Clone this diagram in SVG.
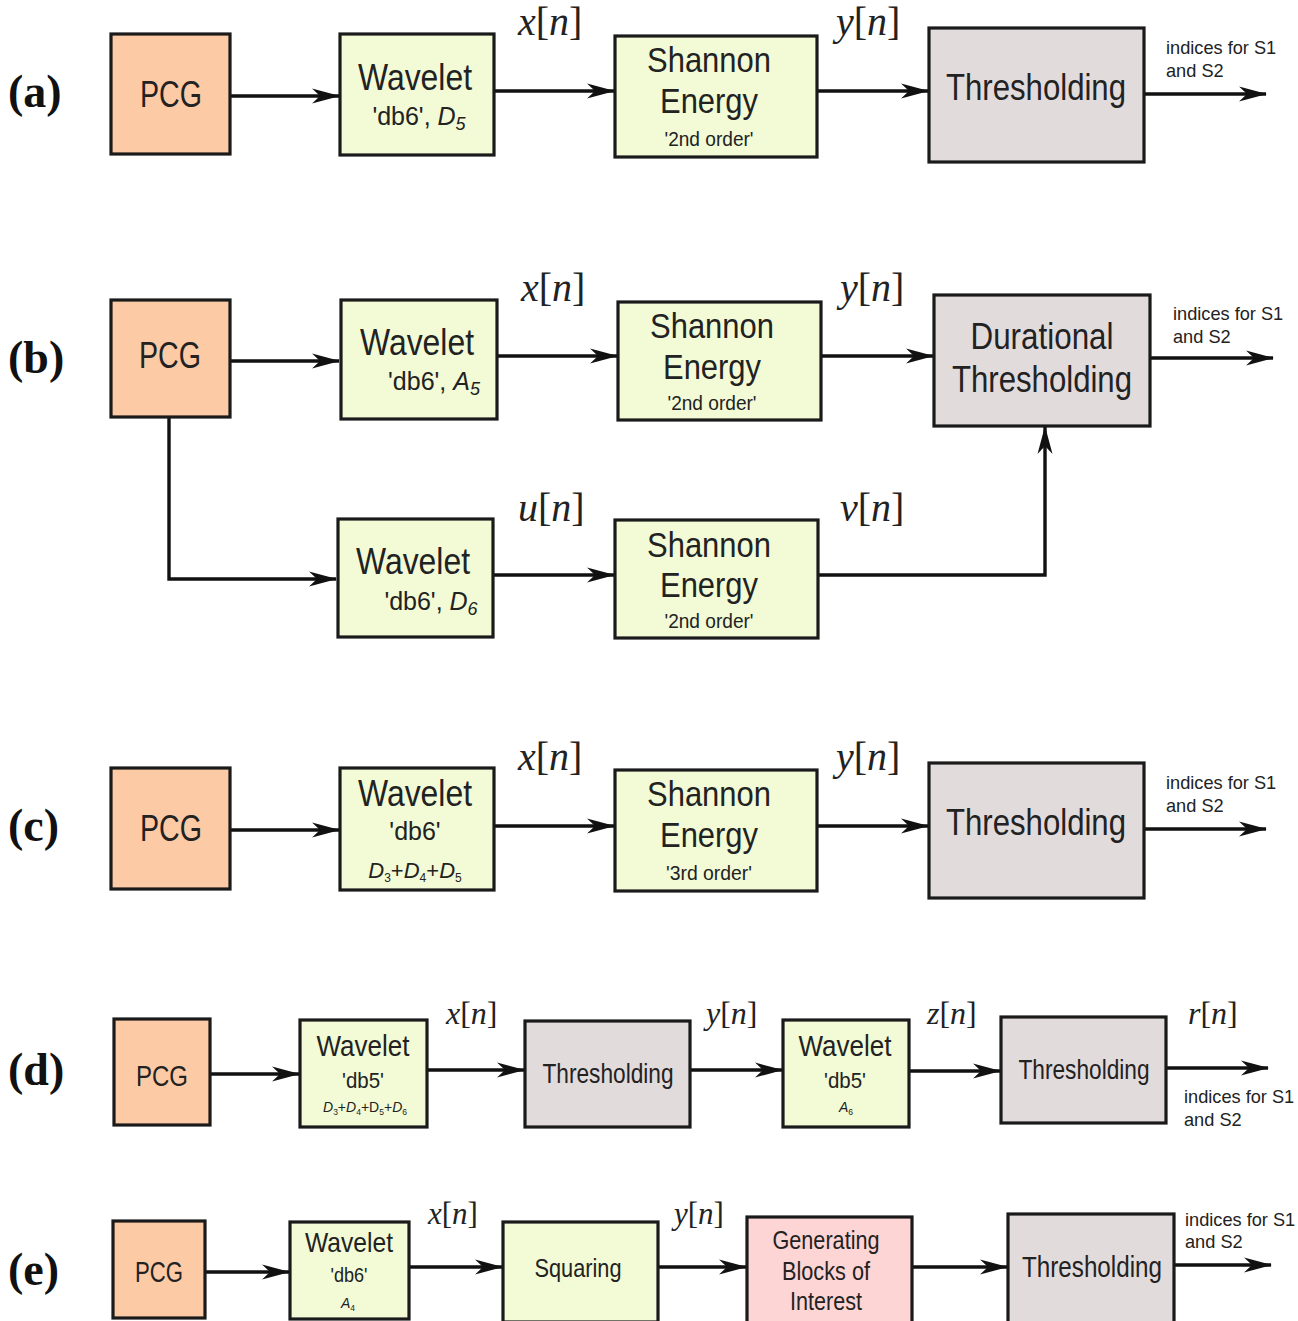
<svg xmlns="http://www.w3.org/2000/svg" width="1298" height="1321" viewBox="0 0 1298 1321">
<style>
.bx{stroke:#1a1a1a;stroke-width:3.2}
.pcg{fill:#fdcaa6}
.wv{fill:#f2fbd6}
.th{fill:#e2dbdc}
.gb{fill:#fdd5d4}
.t{font-family:"Liberation Sans",Arial,sans-serif;fill:#222;text-anchor:middle}
.s{font-family:"Liberation Sans",Arial,sans-serif;fill:#222}
.m{font-family:"Liberation Serif","Times New Roman",serif;fill:#222}
.m .i{font-style:italic}
.p{font-family:"Liberation Serif","Times New Roman",serif;font-weight:bold;fill:#111;font-size:46px}
.c{fill:none;stroke:#111;stroke-width:3.4}
</style>
<defs>
<marker id="ah" markerUnits="userSpaceOnUse" markerWidth="28" markerHeight="18" refX="27" refY="9" orient="auto">
<path d="M0,1.5 L28,9 L0,16.5 L8,9 Z" fill="#111"/>
</marker>
</defs>

<text class="p" x="8" y="107">(a)</text>
<text class="p" x="8" y="373">(b)</text>
<text class="p" x="8" y="841">(c)</text>
<text class="p" x="8" y="1085">(d)</text>
<text class="p" x="8" y="1285">(e)</text>

<g id="connectors" marker-end="url(#ah)">
<path class="c" d="M230,96 H339"/>
<path class="c" d="M494,91 H614"/>
<path class="c" d="M817,91 H928"/>
<path class="c" d="M1144,94 H1266"/>

<path class="c" d="M230,361 H339"/>
<path class="c" d="M497,356 H617"/>
<path class="c" d="M821,356 H933"/>
<path class="c" d="M1150,358 H1273"/>
<path class="c" d="M169,417 V579 H336"/>
<path class="c" d="M493,575 H614"/>
<path class="c" d="M818,575 H1045 V427"/>

<path class="c" d="M230,830 H339"/>
<path class="c" d="M494,826 H614"/>
<path class="c" d="M817,826 H928"/>
<path class="c" d="M1144,829 H1266"/>

<path class="c" d="M210,1074 H299"/>
<path class="c" d="M427,1070 H524"/>
<path class="c" d="M690,1070 H782"/>
<path class="c" d="M909,1071 H1000"/>
<path class="c" d="M1166,1068 H1268"/>

<path class="c" d="M205,1272 H289"/>
<path class="c" d="M409,1267 H502"/>
<path class="c" d="M658,1267 H746"/>
<path class="c" d="M912,1267 H1007"/>
<path class="c" d="M1174,1265 H1271"/>
</g>

<!-- Row a -->
<g id="a-pcg"><rect class="bx pcg" x="111" y="34" width="119" height="120"/><text class="t" x="171" y="107" font-size="36" textLength="62" lengthAdjust="spacingAndGlyphs">PCG</text></g>
<g id="a-wavelet"><rect class="bx wv" x="340" y="34" width="154" height="121"/><text class="t" x="415" y="90" font-size="36" textLength="114" lengthAdjust="spacingAndGlyphs">Wavelet</text><text class="t" x="419" y="125" font-size="25">'db6', <tspan font-style="italic">D</tspan><tspan font-size="18" dy="5" font-style="italic">5</tspan></text></g>
<g id="a-shannon"><rect class="bx wv" x="615" y="36" width="202" height="121"/><text class="t" x="709" y="72" font-size="35" textLength="124" lengthAdjust="spacingAndGlyphs">Shannon</text><text class="t" x="709" y="113" font-size="35" textLength="98" lengthAdjust="spacingAndGlyphs">Energy</text><text class="t" x="709" y="146" font-size="21" textLength="89" lengthAdjust="spacingAndGlyphs">'2nd order'</text></g>
<g id="a-thresh"><rect class="bx th" x="929" y="28" width="215" height="134"/><text class="t" x="1036" y="100" font-size="37" textLength="180" lengthAdjust="spacingAndGlyphs">Thresholding</text></g>
<g id="a-labels">
<text class="m" x="518" y="35" font-size="40"><tspan class="i">x</tspan>[<tspan class="i">n</tspan>]</text>
<text class="m" x="836" y="35" font-size="40"><tspan class="i">y</tspan>[<tspan class="i">n</tspan>]</text>
<text class="s" x="1166" y="54" font-size="18.2">indices for S1</text>
<text class="s" x="1166" y="77" font-size="18.2">and S2</text>
</g>

<!-- Row b -->
<g id="b-pcg"><rect class="bx pcg" x="111" y="300" width="119" height="117"/><text class="t" x="170" y="368" font-size="36" textLength="62" lengthAdjust="spacingAndGlyphs">PCG</text></g>
<g id="b-wavelet1"><rect class="bx wv" x="341" y="300" width="156" height="119"/><text class="t" x="417" y="355" font-size="36" textLength="114" lengthAdjust="spacingAndGlyphs">Wavelet</text><text class="t" x="434" y="390" font-size="25">'db6', <tspan font-style="italic">A</tspan><tspan font-size="18" dy="5" font-style="italic">5</tspan></text></g>
<g id="b-shannon1"><rect class="bx wv" x="618" y="302" width="203" height="118"/><text class="t" x="712" y="338" font-size="35" textLength="124" lengthAdjust="spacingAndGlyphs">Shannon</text><text class="t" x="712" y="379" font-size="35" textLength="98" lengthAdjust="spacingAndGlyphs">Energy</text><text class="t" x="712" y="410" font-size="21" textLength="89" lengthAdjust="spacingAndGlyphs">'2nd order'</text></g>
<g id="b-durational"><rect class="bx th" x="934" y="295" width="216" height="131"/><text class="t" x="1042" y="349" font-size="36" textLength="143" lengthAdjust="spacingAndGlyphs">Durational</text><text class="t" x="1042" y="392" font-size="37" textLength="180" lengthAdjust="spacingAndGlyphs">Thresholding</text></g>
<g id="b-wavelet2"><rect class="bx wv" x="338" y="519" width="155" height="118"/><text class="t" x="413" y="574" font-size="36" textLength="114" lengthAdjust="spacingAndGlyphs">Wavelet</text><text class="t" x="431" y="610" font-size="25">'db6', <tspan font-style="italic">D</tspan><tspan font-size="18" dy="5" font-style="italic">6</tspan></text></g>
<g id="b-shannon2"><rect class="bx wv" x="615" y="520" width="203" height="118"/><text class="t" x="709" y="557" font-size="35" textLength="124" lengthAdjust="spacingAndGlyphs">Shannon</text><text class="t" x="709" y="597" font-size="35" textLength="98" lengthAdjust="spacingAndGlyphs">Energy</text><text class="t" x="709" y="628" font-size="21" textLength="89" lengthAdjust="spacingAndGlyphs">'2nd order'</text></g>
<g id="b-labels">
<text class="m" x="521" y="301" font-size="40"><tspan class="i">x</tspan>[<tspan class="i">n</tspan>]</text>
<text class="m" x="840" y="301" font-size="40"><tspan class="i">y</tspan>[<tspan class="i">n</tspan>]</text>
<text class="m" x="518" y="521" font-size="40"><tspan class="i">u</tspan>[<tspan class="i">n</tspan>]</text>
<text class="m" x="840" y="521" font-size="40"><tspan class="i">v</tspan>[<tspan class="i">n</tspan>]</text>
<text class="s" x="1173" y="320" font-size="18.2">indices for S1</text>
<text class="s" x="1173" y="343" font-size="18.2">and S2</text>
</g>

<!-- Row c -->
<g id="c-pcg"><rect class="bx pcg" x="111" y="768" width="119" height="121"/><text class="t" x="171" y="841" font-size="36" textLength="62" lengthAdjust="spacingAndGlyphs">PCG</text></g>
<g id="c-wavelet"><rect class="bx wv" x="340" y="768" width="154" height="122"/><text class="t" x="415" y="806" font-size="36" textLength="114" lengthAdjust="spacingAndGlyphs">Wavelet</text><text class="t" x="415" y="840" font-size="25">'db6'</text><text class="t" x="415" y="878" font-size="22" font-style="italic">D<tspan font-size="12" dy="4" font-style="normal">3</tspan><tspan dy="-4" font-style="normal">+</tspan>D<tspan font-size="12" dy="4" font-style="normal">4</tspan><tspan dy="-4" font-style="normal">+</tspan>D<tspan font-size="12" dy="4" font-style="normal">5</tspan></text></g>
<g id="c-shannon"><rect class="bx wv" x="615" y="770" width="202" height="121"/><text class="t" x="709" y="806" font-size="35" textLength="124" lengthAdjust="spacingAndGlyphs">Shannon</text><text class="t" x="709" y="847" font-size="35" textLength="98" lengthAdjust="spacingAndGlyphs">Energy</text><text class="t" x="709" y="880" font-size="21" textLength="86" lengthAdjust="spacingAndGlyphs">'3rd order'</text></g>
<g id="c-thresh"><rect class="bx th" x="929" y="763" width="215" height="135"/><text class="t" x="1036" y="835" font-size="37" textLength="180" lengthAdjust="spacingAndGlyphs">Thresholding</text></g>
<g id="c-labels">
<text class="m" x="518" y="770" font-size="40"><tspan class="i">x</tspan>[<tspan class="i">n</tspan>]</text>
<text class="m" x="836" y="770" font-size="40"><tspan class="i">y</tspan>[<tspan class="i">n</tspan>]</text>
<text class="s" x="1166" y="789" font-size="18.2">indices for S1</text>
<text class="s" x="1166" y="812" font-size="18.2">and S2</text>
</g>

<!-- Row d -->
<g id="d-pcg"><rect class="bx pcg" x="114" y="1019" width="96" height="106"/><text class="t" x="162" y="1086" font-size="30" textLength="52" lengthAdjust="spacingAndGlyphs">PCG</text></g>
<g id="d-wavelet1"><rect class="bx wv" x="300" y="1020" width="127" height="107"/><text class="t" x="363" y="1056" font-size="30" textLength="93" lengthAdjust="spacingAndGlyphs">Wavelet</text><text class="t" x="363" y="1088" font-size="22" textLength="42" lengthAdjust="spacingAndGlyphs">'db5'</text><text class="t" x="365" y="1112" font-size="14" font-style="italic">D<tspan font-size="8.5" dy="3" font-style="normal">3</tspan><tspan dy="-3" font-style="normal">+</tspan>D<tspan font-size="8.5" dy="3" font-style="normal">4</tspan><tspan dy="-3" font-style="normal">+D</tspan><tspan font-size="8.5" dy="3" font-style="normal">5</tspan><tspan dy="-3" font-style="normal">+</tspan>D<tspan font-size="8.5" dy="3" font-style="normal">6</tspan></text></g>
<g id="d-thresh1"><rect class="bx th" x="525" y="1021" width="165" height="106"/><text class="t" x="608" y="1083" font-size="28" textLength="131" lengthAdjust="spacingAndGlyphs">Thresholding</text></g>
<g id="d-wavelet2"><rect class="bx wv" x="783" y="1020" width="126" height="107"/><text class="t" x="845" y="1056" font-size="30" textLength="93" lengthAdjust="spacingAndGlyphs">Wavelet</text><text class="t" x="845" y="1088" font-size="22" textLength="42" lengthAdjust="spacingAndGlyphs">'db5'</text><text class="t" x="846" y="1112" font-size="14" font-style="italic">A<tspan font-size="8.5" dy="3" font-style="normal">6</tspan></text></g>
<g id="d-thresh2"><rect class="bx th" x="1001" y="1017" width="165" height="106"/><text class="t" x="1084" y="1079" font-size="28" textLength="131" lengthAdjust="spacingAndGlyphs">Thresholding</text></g>
<g id="d-labels">
<text class="m" x="446" y="1024" font-size="32"><tspan class="i">x</tspan>[<tspan class="i">n</tspan>]</text>
<text class="m" x="706" y="1024" font-size="32"><tspan class="i">y</tspan>[<tspan class="i">n</tspan>]</text>
<text class="m" x="927" y="1024" font-size="32"><tspan class="i">z</tspan>[<tspan class="i">n</tspan>]</text>
<text class="m" x="1188" y="1024" font-size="32"><tspan class="i">r</tspan>[<tspan class="i">n</tspan>]</text>
<text class="s" x="1184" y="1103" font-size="18.2">indices for S1</text>
<text class="s" x="1184" y="1126" font-size="18.2">and S2</text>
</g>

<!-- Row e -->
<g id="e-pcg"><rect class="bx pcg" x="113" y="1221" width="92" height="97"/><text class="t" x="159" y="1282" font-size="29" textLength="48" lengthAdjust="spacingAndGlyphs">PCG</text></g>
<g id="e-wavelet"><rect class="bx wv" x="290" y="1222" width="119" height="97"/><text class="t" x="349" y="1252" font-size="28" textLength="88" lengthAdjust="spacingAndGlyphs">Wavelet</text><text class="t" x="349" y="1282" font-size="20" textLength="37" lengthAdjust="spacingAndGlyphs">'db6'</text><text class="t" x="348" y="1308" font-size="14" font-style="italic">A<tspan font-size="8.5" dy="3" font-style="normal">4</tspan></text></g>
<g id="e-squaring"><rect class="bx wv" x="503" y="1222" width="155" height="100"/><text class="t" x="578" y="1277" font-size="26" textLength="87" lengthAdjust="spacingAndGlyphs">Squaring</text></g>
<g id="e-blocks"><rect class="bx gb" x="747" y="1217" width="165" height="110"/><text class="t" x="826" y="1249" font-size="25" textLength="107" lengthAdjust="spacingAndGlyphs">Generating</text><text class="t" x="826" y="1280" font-size="25" textLength="88" lengthAdjust="spacingAndGlyphs">Blocks of</text><text class="t" x="826" y="1310" font-size="25" textLength="72" lengthAdjust="spacingAndGlyphs">Interest</text></g>
<g id="e-thresh"><rect class="bx th" x="1008" y="1214" width="166" height="115"/><text class="t" x="1092" y="1277" font-size="29" textLength="140" lengthAdjust="spacingAndGlyphs">Thresholding</text></g>
<g id="e-labels">
<text class="m" x="428" y="1224" font-size="31"><tspan class="i">x</tspan>[<tspan class="i">n</tspan>]</text>
<text class="m" x="674" y="1224" font-size="31"><tspan class="i">y</tspan>[<tspan class="i">n</tspan>]</text>
<text class="s" x="1185" y="1226" font-size="18.2">indices for S1</text>
<text class="s" x="1185" y="1248" font-size="18.2">and S2</text>
</g>
</svg>
